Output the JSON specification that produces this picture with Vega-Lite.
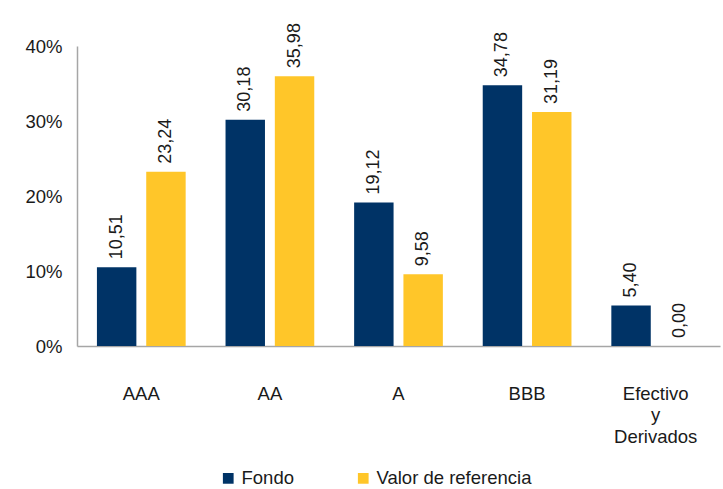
{
  "$schema": "https://vega.github.io/schema/vega-lite/v6.json",
  "width": 643,
  "height": 300,
  "autosize": {"type": "none"},
  "padding": {"left": 77, "top": 46, "right": 3, "bottom": 143},
  "config": {
    "font": "Liberation Sans",
    "view": {"stroke": null},
    "locale": {"number": {"decimal": ",", "thousands": ".", "grouping": [3], "currency": ["", " €"]}}
  },
  "data": {
    "values": [
      {"cat": "AAA", "serie": "Fondo", "v": 10.51},
      {"cat": "AAA", "serie": "Valor de referencia", "v": 23.24},
      {"cat": "AA", "serie": "Fondo", "v": 30.18},
      {"cat": "AA", "serie": "Valor de referencia", "v": 35.98},
      {"cat": "A", "serie": "Fondo", "v": 19.12},
      {"cat": "A", "serie": "Valor de referencia", "v": 9.58},
      {"cat": "BBB", "serie": "Fondo", "v": 34.78},
      {"cat": "BBB", "serie": "Valor de referencia", "v": 31.19},
      {"cat": "Efectivo y Derivados", "serie": "Fondo", "v": 5.40},
      {"cat": "Efectivo y Derivados", "serie": "Valor de referencia", "v": 0.00}
    ]
  },
  "encoding": {
    "x": {
      "field": "cat", "type": "nominal", "sort": null,
      "scale": {"paddingInner": 0.31, "paddingOuter": 0.155},
      "axis": {
        "title": null, "labelAngle": 0, "ticks": false,
        "domainColor": "#A6A6A6", "domainWidth": 1.5,
        "labelFontSize": 18.5, "labelColor": "#1a1a1a",
        "labelPadding": 38, "labelLineHeight": 21.5,
        "labelExpr": "datum.value == 'Efectivo y Derivados' ? ['Efectivo','y','Derivados'] : datum.value"
      }
    },
    "xOffset": {"field": "serie", "type": "nominal", "scale": {"paddingInner": 0.2}},
    "y": {
      "field": "v", "type": "quantitative",
      "scale": {"domain": [0, 40]},
      "axis": {
        "title": null, "values": [0, 10, 20, 30, 40], "grid": false, "ticks": false,
        "domainColor": "#A6A6A6", "domainWidth": 1.5,
        "labelFontSize": 18.5, "labelColor": "#1a1a1a", "labelPadding": 15,
        "labelExpr": "datum.value + '%'"
      }
    }
  },
  "layer": [
    {
      "mark": {"type": "bar"},
      "encoding": {
        "color": {
          "field": "serie", "type": "nominal",
          "scale": {"domain": ["Fondo", "Valor de referencia"], "range": ["#003366", "#FFC629"]},
          "legend": {
            "title": null, "orient": "none", "legendX": 142, "legendY": 423,
            "direction": "horizontal", "symbolType": "square", "symbolSize": 115,
            "symbolStrokeWidth": 0, "labelFontSize": 18.5, "labelColor": "#1a1a1a",
            "labelOffset": 4, "columnPadding": 60
          }
        }
      }
    },
    {
      "mark": {"type": "text", "angle": 270, "align": "left", "baseline": "middle", "dx": 8, "fontSize": 18, "color": "#1a1a1a"},
      "encoding": {
        "text": {"field": "v", "type": "quantitative", "format": ".2f"}
      }
    }
  ]
}
